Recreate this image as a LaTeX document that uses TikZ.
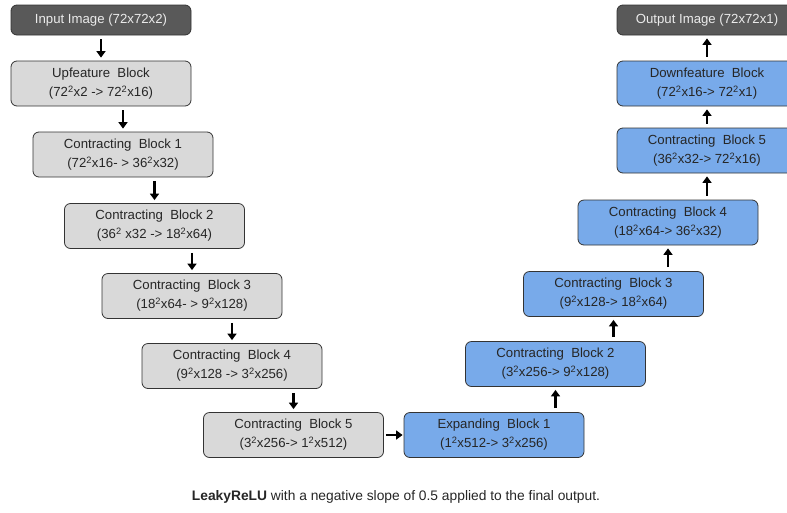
\documentclass[tikz,border=0pt]{standalone}
\usepackage{fontspec}
\setmainfont{Liberation Sans}
\usetikzlibrary{arrows.meta}

\definecolor{boxgray}{HTML}{D9D9D9}
\definecolor{boxblue}{HTML}{78AAEA}
\definecolor{boxdark}{HTML}{595959}
\newcommand*{\psq}{\textsuperscript{2}}

\begin{document}
\begin{tikzpicture}[x=1pt, y=-1pt,
    block/.style={draw=black!80, line width=0.8pt, rounded corners=6pt,
        minimum width=180pt, minimum height=45pt, align=center, inner sep=2pt,
        font=\fontsize{13.2}{19}\selectfont, text=black!85},
    graybox/.style={block, fill=boxgray},
    bluebox/.style={block, fill=boxblue},
    darkbox/.style={block, fill=boxdark, minimum height=30pt, text=white!92!black},
    flow/.style={line width=2.8pt, -{Triangle[width=9pt, length=6.5pt]}}
]
    \useasboundingbox (0, 0) rectangle (787, 512);

    % left side, going down
    \node[darkbox] (input) at (101, 20) {Input Image (72x72x2)};
    \node[graybox] (upfeat) at (101, 83.5) {Upfeature~ Block\\(72\psq x2 -> 72\psq x16)};
    \node[graybox] (cl1) at (123, 154.5) {Contracting~ Block 1\\(72\psq x16- > 36\psq x32)};
    \node[graybox] (cl2) at (154.5, 226) {Contracting~ Block 2\\(36\psq{} x32 -> 18\psq x64)};
    \node[graybox] (cl3) at (192, 296) {Contracting~ Block 3\\(18\psq x64- > 9\psq x128)};
    \node[graybox] (cl4) at (232, 366) {Contracting~ Block 4\\(9\psq x128 -> 3\psq x256)};
    \node[graybox] (cl5) at (293.5, 435) {Contracting~ Block 5\\(3\psq x256-> 1\psq x512)};

    % right side, going up
    \node[bluebox] (exp1) at (494, 435) {Expanding~ Block 1\\(1\psq x512-> 3\psq x256)};
    \node[bluebox] (cr2) at (555.5, 364) {Contracting~ Block 2\\(3\psq x256-> 9\psq x128)};
    \node[bluebox] (cr3) at (613.5, 294) {Contracting~ Block 3\\(9\psq x128-> 18\psq x64)};
    \node[bluebox] (cr4) at (668, 222.5) {Contracting~ Block 4\\(18\psq x64-> 36\psq x32)};
    \node[bluebox] (cr5) at (707, 150.5) {Contracting~ Block 5\\(36\psq x32-> 72\psq x16)};
    \node[bluebox] (downfeat) at (707, 83.5) {Downfeature~ Block\\(72\psq x16-> 72\psq x1)};
    \node[darkbox] (output) at (707, 20) {Output Image (72x72x1)};

    \foreach \a/\b in {input/upfeat, upfeat/cl1, cl1/cl2, cl2/cl3, cl3/cl4, cl4/cl5} {
        \draw[flow, shorten <=4pt, shorten >=3pt] (\b.north |- \a.south) -- (\b.north);
    }
    \foreach \a/\b in {exp1/cr2, cr2/cr3, cr3/cr4, cr4/cr5, cr5/downfeat, downfeat/output} {
        \draw[flow, shorten <=4pt, shorten >=3pt] (\b.south |- \a.north) -- (\b.south);
    }
    \draw[flow, shorten <=2pt, shorten >=1pt] (cl5.east) -- (exp1.west);

    \node[font=\fontsize{13.8}{16}\selectfont, text=black!85] (note) at (396, 497)
        {\textbf{LeakyReLU} with a negative slope of 0.5 applied to the final output.};
\end{tikzpicture}
\end{document}
